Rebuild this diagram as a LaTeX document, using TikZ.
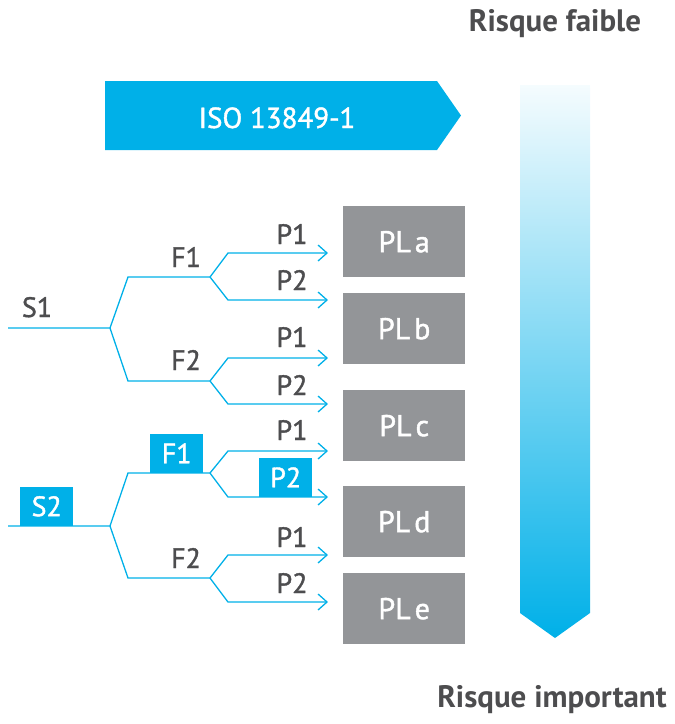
\documentclass[tikz,border=0pt]{standalone}
\usepackage{fontspec}
\setmainfont{PT Sans}
\newfontfamily\medfont{PT Sans}[FakeBold=1.4]
\usepackage{tikz}
\usetikzlibrary{arrows.meta, positioning}

\definecolor{isoblue}{HTML}{00B0E8}
\definecolor{plgray}{HTML}{939598}
\definecolor{txtgray}{HTML}{4D4D4F}

\begin{document}
\begin{tikzpicture}[x=1pt, y=-1pt, >={Straight Barb[length=9pt,width=16pt]},
    branch/.style={draw=isoblue, line width=1.3pt},
    lbl/.style={text=txtgray, font=\medfont\fontsize{28}{28}\selectfont, inner sep=0pt, anchor=base},
    hilite/.style={fill=isoblue, text=white, font=\medfont\fontsize{28}{28}\selectfont, minimum width=53pt, minimum height=39pt, inner sep=0pt, anchor=south west},
    plbox/.style={fill=plgray, text=white, font=\medfont\fontsize{30}{30}\selectfont, minimum width=122pt, minimum height=71pt, inner sep=0pt, anchor=north west},
    risk/.style={text=txtgray, font=\bfseries\fontsize{31}{31}\selectfont, inner sep=0pt, anchor=base}]
    \useasboundingbox (0,0) rectangle (675,724);

    % banner and risk scale
    \fill[isoblue] (105,81) -- (437,81) -- (461,115.5) -- (437,150) -- (105,150) -- cycle;
    \node[text=white, font=\medfont\fontsize{29}{29}\selectfont, inner sep=0pt, anchor=base] (iso) at (277,128) {ISO 13849-1};
    \shade[top color=isoblue!4, bottom color=isoblue] (520,85) -- (590,85) -- (590,613) -- (555,638) -- (520,613) -- cycle;
    \node[risk] (low) at (555,31) {Risque faible};
    \node[risk] (high) at (552,707) {Risque important};

    % performance levels
    \node[plbox] (pla) at (343,206) {PL\hspace{4pt}a};
    \node[plbox] (plb) at (343,293) {PL\hspace{4pt}b};
    \node[plbox] (plc) at (343,390) {PL\hspace{4pt}c};
    \node[plbox] (pld) at (343,486) {PL\hspace{4pt}d};
    \node[plbox] (ple) at (343,573) {PL\hspace{4pt}e};

    % branch points
    \coordinate (s1in) at (8,328);   \coordinate (s1) at (110,328);
    \coordinate (s2in) at (8,526);   \coordinate (s2) at (110,526);
    \coordinate (f1a) at (128,277);  \coordinate (f1) at (210,277);
    \coordinate (f2a) at (128,381);  \coordinate (f2) at (210,381);
    \coordinate (f3a) at (128,473);  \coordinate (f3) at (210,473);
    \coordinate (f4a) at (128,578);  \coordinate (f4) at (210,578);
    \coordinate (p1a) at (228,253);  \coordinate (p1) at (328,253);
    \coordinate (p2a) at (228,300);  \coordinate (p2) at (328,300);
    \coordinate (p3a) at (228,358);  \coordinate (p3) at (328,358);
    \coordinate (p4a) at (228,404);  \coordinate (p4) at (328,404);
    \coordinate (p5a) at (228,451);  \coordinate (p5) at (328,451);
    \coordinate (p6a) at (228,497);  \coordinate (p6) at (328,497);
    \coordinate (p7a) at (228,555);  \coordinate (p7) at (328,555);
    \coordinate (p8a) at (228,602);  \coordinate (p8) at (328,602);

    % tree
    \draw[branch] (s1in) -- (s1) (f1) -- (f1a) -- (s1) -- (f2a) -- (f2);
    \draw[branch] (s2in) -- (s2) (f3) -- (f3a) -- (s2) -- (f4a) -- (f4);
    \draw[branch, ->] (f1) -- (p1a) -- (p1);
    \draw[branch, ->] (f1) -- (p2a) -- (p2);
    \draw[branch, ->] (f2) -- (p3a) -- (p3);
    \draw[branch, ->] (f2) -- (p4a) -- (p4);
    \draw[branch, ->] (f3) -- (p5a) -- (p5);
    \draw[branch, ->] (f3) -- (p6a) -- (p6);
    \draw[branch, ->] (f4) -- (p7a) -- (p7);
    \draw[branch, ->] (f4) -- (p8a) -- (p8);

    % labels
    \node[lbl] (s1lbl) at (37,317) {S1};
    \node[lbl] (f1lbl) at (186,267) {F1};
    \node[lbl] (f2lbl) at (186,370) {F2};
    \node[lbl] (p1lbl) at (292,244) {P1};
    \node[lbl] (p2lbl) at (292,290) {P2};
    \node[lbl] (p3lbl) at (292,347) {P1};
    \node[lbl] (p4lbl) at (292,395) {P2};
    \node[hilite] (s2lbl) at (20,526) {S2};
    \node[hilite] (f3lbl) at (150,473) {F1};
    \node[lbl] (p5lbl) at (292,440) {P1};
    \node[hilite] (p6lbl) at (259,497) {P2};
    \node[lbl] (f4lbl) at (186,568) {F2};
    \node[lbl] (p7lbl) at (292,547) {P1};
    \node[lbl] (p8lbl) at (292,593) {P2};
\end{tikzpicture}
\end{document}
